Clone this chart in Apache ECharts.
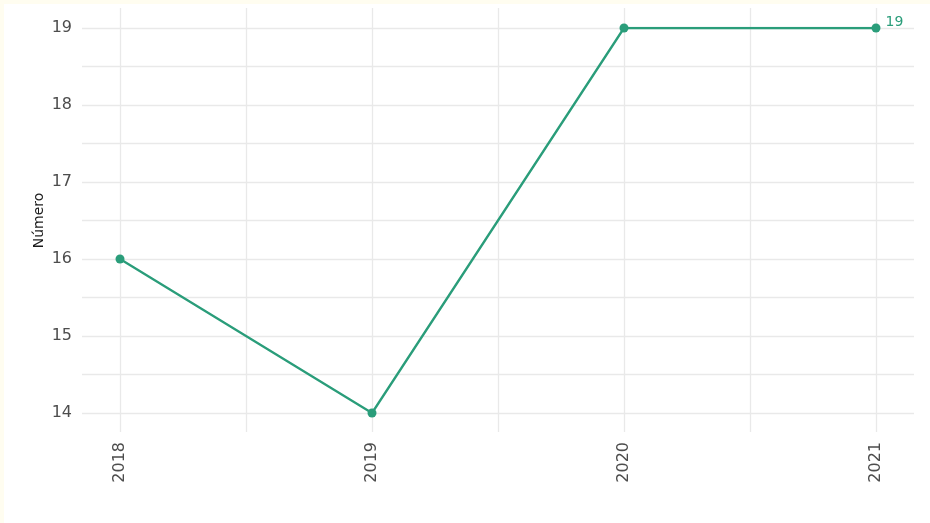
<!DOCTYPE html>
<html>
<head>
<meta charset="utf-8">
<script src="https://cdn.jsdelivr.net/npm/echarts@6/dist/echarts.min.js"></script>
<style>
  html, body { margin: 0; padding: 0; background: #fffdf0; }
  #chart { position: absolute; left: 4px; top: 4px; width: 926px; height: 519px; background: #fff; }
</style>
</head>
<body>
<div id="chart"></div>
<script>
// data
const years = [2018, 2019, 2020, 2021]
const numero = [16, 14, 19, 19]
const yTicks = [14, 15, 16, 17, 18, 19]

const gridColor = '#e9e9e9'
const lineColor = '#2a9d7a'
const labelFont = 'DejaVu Sans'

const chart = echarts.init(document.getElementById('chart'))

const points = years.map((y, i) => {
  const item = { value: [y, numero[i]] }
  // only the last point carries its value
  if (i === years.length - 1) {
    item.label = {
      show: true,
      position: 'right',
      distance: 5,
      offset: [0, -6],
      color: lineColor,
      fontSize: 14,
      fontFamily: labelFont,
      formatter: p => p.value[1]
    }
  }
  return item
})

const option = {
  backgroundColor: '#fff',
  animation: false,
  grid: {
    left: 116,
    right: 54,
    top: 24,
    bottom: 110
  },
  xAxis: [{
    type: 'value',
    position: 'bottom',
    min: years[0],
    max: years[years.length - 1],
    interval: 0.5,
    axisLine: { show: false },
    axisTick: { show: true, length: 19, lineStyle: { color: gridColor, width: 1.3 } },
    splitLine: { show: true, lineStyle: { color: gridColor, width: 1.3 } },
    axisLabel: {
      rotate: 90,
      margin: 29,
      color: '#4d4d4d',
      fontSize: 16,
      fontFamily: labelFont,
      formatter: v => (years.indexOf(v) >= 0 ? String(v) : '')
    }
  }, {
    type: 'value',
    position: 'top',
    min: years[0],
    max: years[years.length - 1],
    interval: 0.5,
    axisLine: { show: false },
    axisTick: { show: true, length: 20, lineStyle: { color: gridColor, width: 1.3 } },
    splitLine: { show: false },
    axisLabel: { show: false }
  }],
  yAxis: [{
    type: 'value',
    position: 'left',
    min: yTicks[0],
    max: yTicks[yTicks.length - 1],
    interval: 0.5,
    name: 'Número',
    nameLocation: 'middle',
    nameGap: 74,
    nameMoveOverlap: false,
    nameTextStyle: { color: '#1a1a1a', fontSize: 14, fontFamily: labelFont },
    axisLine: { show: false },
    axisTick: { show: true, length: 38, lineStyle: { color: gridColor, width: 1.3 } },
    splitLine: { show: true, lineStyle: { color: gridColor, width: 1.3 } },
    axisLabel: {
      margin: 48,
      color: '#4d4d4d',
      fontSize: 16,
      fontFamily: labelFont,
      formatter: v => (yTicks.indexOf(v) >= 0 ? String(v) : '')
    }
  }, {
    type: 'value',
    position: 'right',
    min: yTicks[0],
    max: yTicks[yTicks.length - 1],
    interval: 0.5,
    axisLine: { show: false },
    axisTick: { show: true, length: 38, lineStyle: { color: gridColor, width: 1.3 } },
    splitLine: { show: false },
    axisLabel: { show: false }
  }],
  series: [{
    name: 'Número',
    type: 'line',
    xAxisIndex: 0,
    yAxisIndex: 0,
    symbol: 'circle',
    symbolSize: 9,
    itemStyle: { color: lineColor },
    lineStyle: { color: lineColor, width: 2.3 },
    data: points
  }]
}

chart.setOption(option)
</script>
</body>
</html>
